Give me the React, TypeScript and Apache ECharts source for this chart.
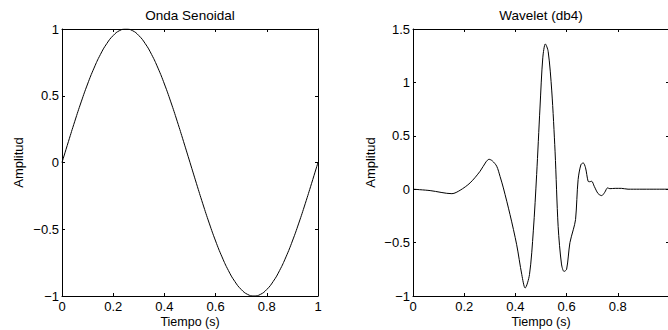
import React, { useEffect, useRef } from "react";
import * as echarts from "echarts";

// Onda Senoidal
const sineT = [
  0, 0.025, 0.05, 0.075, 0.1, 0.125, 0.15, 0.175, 0.2, 0.225, 0.25, 0.275, 0.3, 0.325, 0.35, 0.375, 0.4,
  0.425, 0.45, 0.475, 0.5, 0.525, 0.55, 0.575, 0.6, 0.625, 0.65, 0.675, 0.7, 0.725, 0.75, 0.775, 0.8,
  0.825, 0.85, 0.875, 0.9, 0.925, 0.95, 0.975, 1,
];
const sineV = [
  0, 0.156, 0.309, 0.454, 0.588, 0.707, 0.809, 0.891, 0.951, 0.988, 1, 0.988, 0.951, 0.891, 0.809, 0.707,
  0.588, 0.454, 0.309, 0.156, 0, -0.156, -0.309, -0.454, -0.588, -0.707, -0.809, -0.891, -0.951, -0.988,
  -1, -0.988, -0.951, -0.891, -0.809, -0.707, -0.588, -0.454, -0.309, -0.156, 0,
];

// Wavelet (db4)
const waveT = [
  0, 0.067, 0.152, 0.184, 0.223, 0.262, 0.285, 0.297, 0.31, 0.327, 0.34, 0.353, 0.379, 0.405, 0.425,
  0.438, 0.455, 0.47, 0.483, 0.496, 0.507, 0.517, 0.528, 0.542, 0.555, 0.567, 0.58, 0.59, 0.6, 0.613,
  0.626, 0.635, 0.645, 0.656, 0.665, 0.674, 0.684, 0.69, 0.698, 0.708, 0.723, 0.737, 0.749, 0.76, 0.769,
  0.79, 0.814, 0.84, 1,
];
const waveV = [
  0, -0.013, -0.042, -0.01, 0.059, 0.168, 0.255, 0.28, 0.265, 0.215, 0.12, 0.012, -0.238, -0.52, -0.8,
  -0.925, -0.8, -0.39, 0.137, 0.76, 1.23, 1.36, 1.29, 0.92, 0.35, -0.35, -0.7, -0.77, -0.75, -0.5, -0.38,
  -0.285, 0.09, 0.23, 0.246, 0.2, 0.074, 0.07, 0.074, 0.027, -0.041, -0.06, -0.029, 0.012, 0.005, 0.008,
  0.008, 0, 0,
];

const titles = ["Onda Senoidal", "Wavelet (db4)"];
const xName = "Tiempo (s)";
const yName = "Amplitud";

const FONT = "Liberation Sans";
const FS = 13;
const FS_NAME = 12.5;
const FS_TITLE = 13.5;

const fmt = (v: number) => {
  const s = String(Math.round(v * 10) / 10);
  return s.replace("-", "\u2212");
};

export default function App() {
  const ref = useRef<HTMLDivElement>(null);
  useEffect(() => {
    const chart = echarts.init(ref.current!, null, { renderer: "svg" });
    const axisLine = { show: true, onZero: false, lineStyle: { color: "#000", width: 1 } };
    const tickIn = { show: true, inside: true, length: 3, lineStyle: { color: "#000", width: 1 } };
    const labelStyle = { color: "#000", fontFamily: FONT, fontSize: FS, formatter: fmt };

    const mkX = (gridIndex: number, showMax: boolean) => [
      {
        type: "value",
        gridIndex,
        position: "bottom",
        min: 0,
        max: 1,
        interval: 0.2,
        axisLine,
        axisTick: tickIn,
        splitLine: { show: false },
        axisLabel: { ...labelStyle, margin: 4, showMaxLabel: showMax, hideOverlap: false },
        name: xName,
        nameLocation: "middle",
        nameGap: 19,
        nameMoveOverlap: false,
        nameTextStyle: { color: "#000", fontFamily: FONT, fontSize: FS_NAME },
      },
      {
        type: "value",
        gridIndex,
        position: "top",
        min: 0,
        max: 1,
        interval: 0.2,
        axisLine,
        axisTick: tickIn,
        splitLine: { show: false },
        axisLabel: { show: false },
      },
    ];
    const mkY = (gridIndex: number, min: number, max: number, gap: number) => [
      {
        type: "value",
        gridIndex,
        position: "left",
        min,
        max,
        interval: 0.5,
        axisLine,
        axisTick: tickIn,
        splitLine: { show: false },
        axisLabel: { ...labelStyle, margin: 3 },
        name: yName,
        nameLocation: "middle",
        nameGap: gap,
        nameMoveOverlap: false,
        nameTextStyle: { color: "#000", fontFamily: FONT, fontSize: FS },
      },
      {
        type: "value",
        gridIndex,
        position: "right",
        min,
        max,
        interval: 0.5,
        axisLine,
        axisTick: tickIn,
        splitLine: { show: false },
        axisLabel: { show: false },
      },
    ];

    chart.setOption({
      animation: false,
      backgroundColor: "#fff",
      title: [
        {
          text: titles[0],
          left: 190,
          top: 8,
          textAlign: "center",
          padding: 0,
          textStyle: { color: "#000", fontFamily: FONT, fontSize: FS_TITLE, fontWeight: "normal" },
        },
        {
          text: titles[1],
          left: 541,
          top: 8,
          textAlign: "center",
          padding: 0,
          textStyle: { color: "#000", fontFamily: FONT, fontSize: FS_TITLE, fontWeight: "normal" },
        },
      ],
      grid: [
        { left: 62, top: 29, width: 256, height: 267, containLabel: false, outerBoundsMode: "none" },
        { left: 413, top: 29, width: 256, height: 267, containLabel: false, outerBoundsMode: "none" },
      ],
      xAxis: [...mkX(0, true), ...mkX(1, false)],
      yAxis: [...mkY(0, -1, 1, 37), ...mkY(1, -1, 1.5, 36)],
      series: [
        {
          type: "line",
          xAxisIndex: 0,
          yAxisIndex: 0,
          data: sineT.map((t, i) => [t, sineV[i]]),
          showSymbol: false,
          smooth: true,
          lineStyle: { color: "#000", width: 1 },
        },
        {
          type: "line",
          xAxisIndex: 2,
          yAxisIndex: 2,
          data: waveT.map((t, i) => [t, waveV[i]]),
          showSymbol: false,
          smooth: 0.3,
          lineStyle: { color: "#000", width: 1 },
        },
      ],
    });
    return () => chart.dispose();
  }, []);
  return (
    <div
      ref={ref}
      style={{ position: "fixed", left: 0, top: 0, width: 668, height: 330, background: "#fff" }}
    />
  );
}
